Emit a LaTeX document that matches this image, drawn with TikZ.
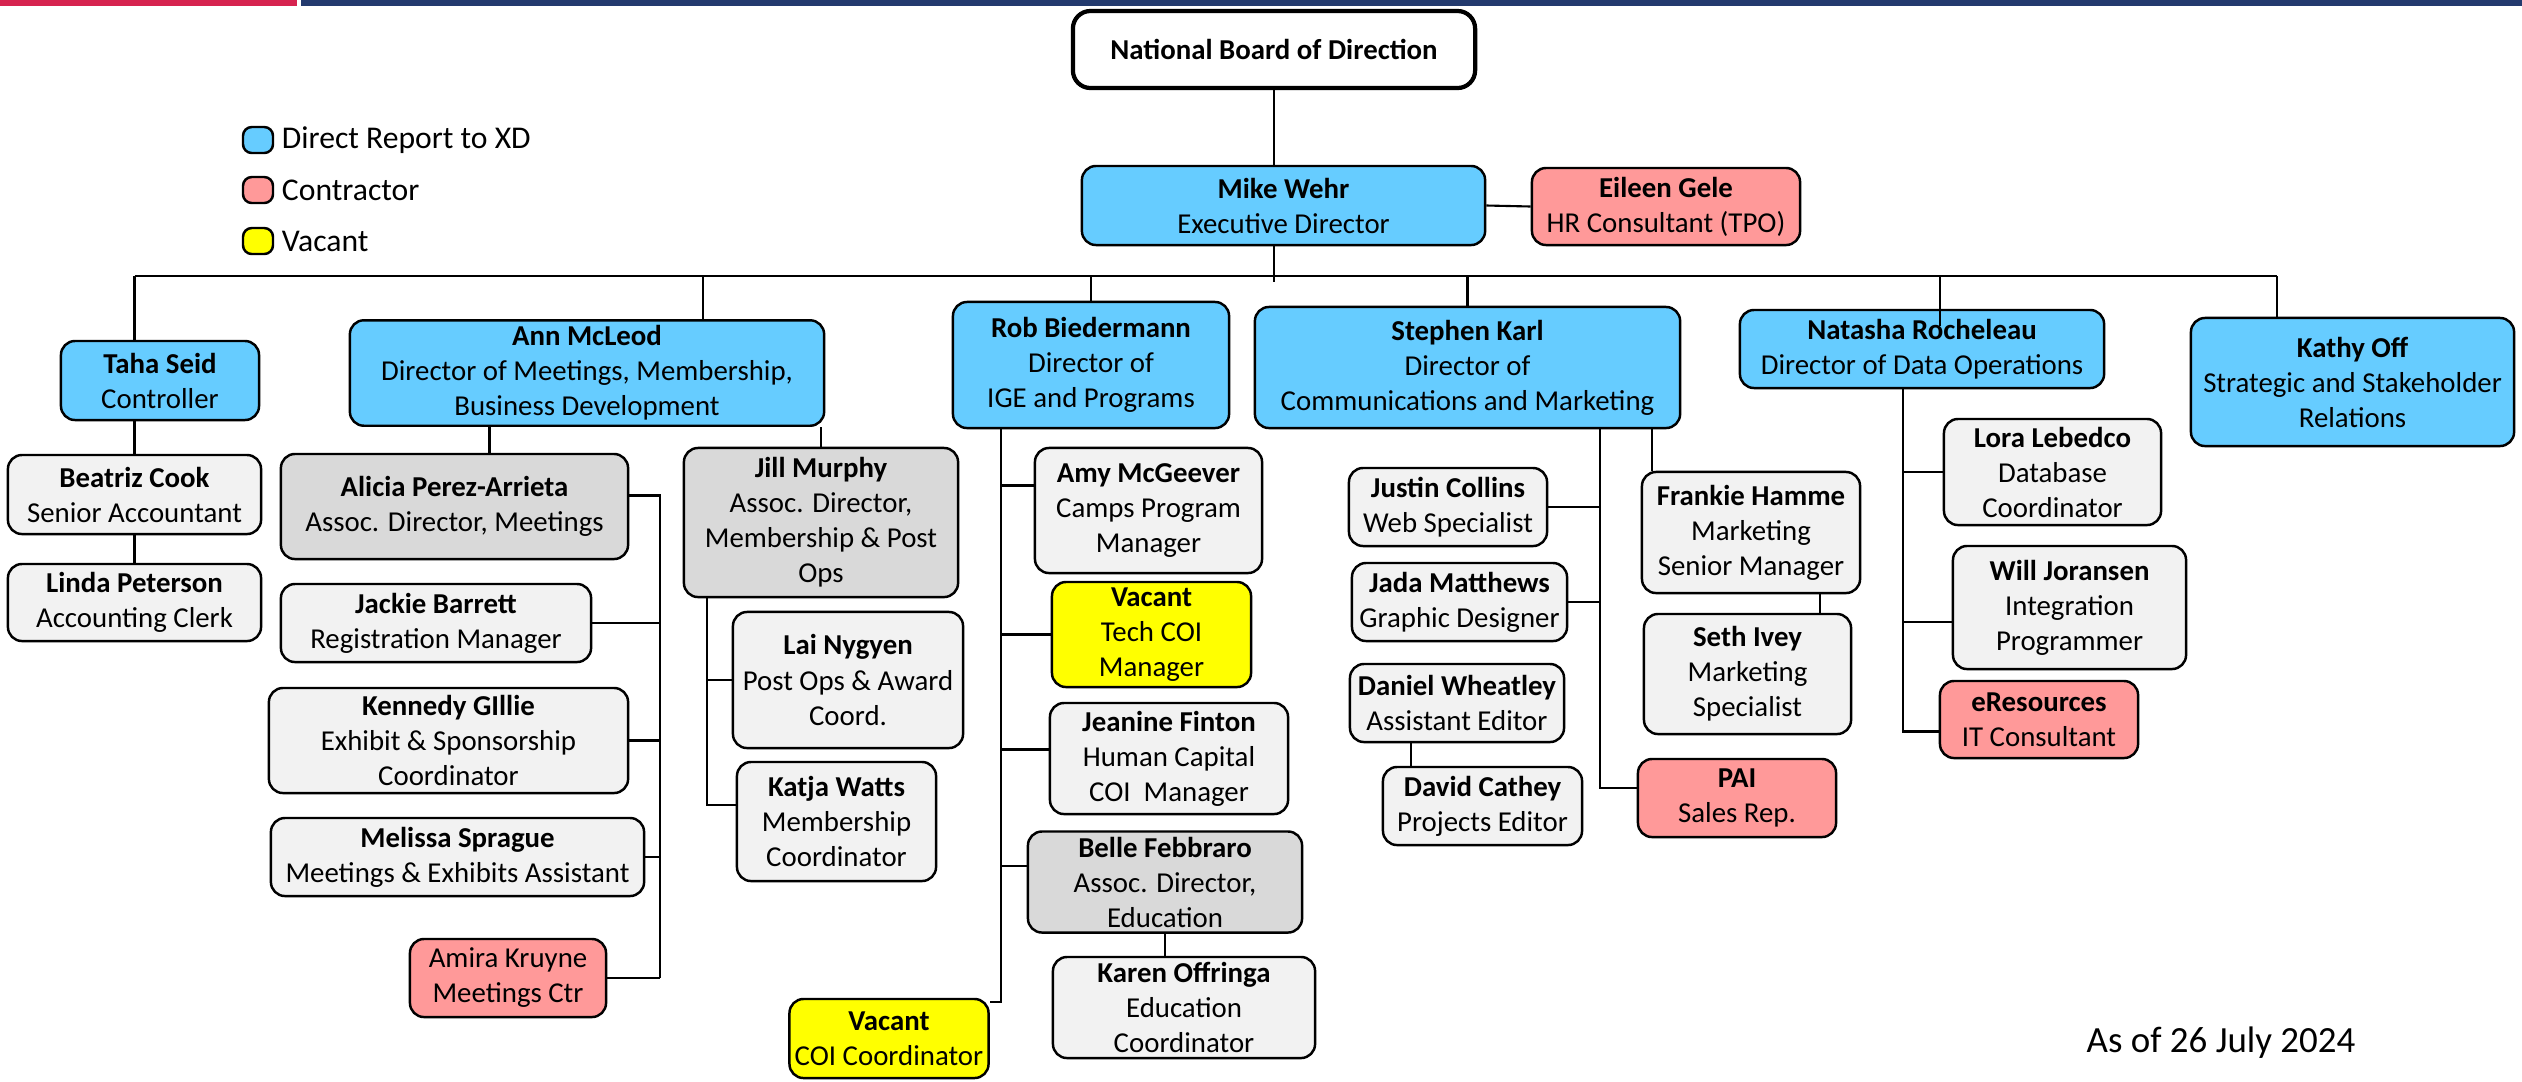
\documentclass[tikz,border=0pt]{standalone}
\usepackage{fontspec}
\setmainfont{Carlito}
\usepackage{xcolor}
\usepackage{tikz}
\usetikzlibrary{positioning}

\definecolor{dirblue}{HTML}{66CCFF}
\definecolor{contract}{HTML}{FF9999}
\definecolor{vacantyel}{HTML}{FFFF00}
\definecolor{staffgray}{HTML}{F2F2F2}
\definecolor{assocgray}{HTML}{D9D9D9}
\definecolor{barred}{HTML}{D6234F}
\definecolor{barblue}{HTML}{233A6E}
\newcommand{\orgfont}{\fontsize{8.2}{9.96}\selectfont}

\begin{document}
\begin{tikzpicture}[x=0.01cm, y=-0.01cm,
    box/.style={rectangle, draw=black, rounded corners=4pt, line width=0.7pt, align=center, inner sep=1.5pt, font=\orgfont},
    dims/.style 2 args={minimum width=#1cm, minimum height=#2cm},
    direct/.style={box, fill=dirblue},
    contractor/.style={box, fill=contract},
    vacantbox/.style={box, fill=vacantyel},
    staff/.style={box, fill=staffgray},
    assoc/.style={box, fill=assocgray},
    legbox/.style={rectangle, draw=black, rounded corners=2.5pt, line width=0.7pt, minimum width=0.3cm, minimum height=0.26cm, inner sep=0pt},
    legtext/.style={inner sep=0pt, anchor=west, font=\fontsize{9}{11}\selectfont},
    link/.style={line width=0.6pt}
]
\useasboundingbox (0,0) rectangle (2522,1081);
\fill[barred] (0,0) rectangle (297,6);
\fill[barblue] (301,0) rectangle (2522,6);

% legend
\node[legbox, fill=dirblue] (legdirect) at (258,140) {};
\node[legbox, fill=contract] (legcontract) at (258,190) {};
\node[legbox, fill=vacantyel] (legvacant) at (258,241) {};
\node[legtext, right=0.07cm of legdirect] {Direct Report to XD};
\node[legtext, right=0.07cm of legcontract] {Contractor};
\node[legtext, right=0.07cm of legvacant] {Vacant};

% top
\node[box, fill=white, line width=1.2pt, rounded corners=5pt, dims={4.02}{0.77}] (board) at (1274,49.5) {\textbf{National Board of Direction}};
\node[direct, dims={4.03}{0.79}] (wehr) at (1283.5,205.5) {\textbf{Mike Wehr}\\Executive Director};
\node[contractor, dims={2.68}{0.77}] (gele) at (1666,206.5) {\textbf{Eileen Gele}\\HR Consultant (TPO)};

% directors
\node[direct, dims={1.98}{0.79}] (seid) at (160,380.5) {\textbf{Taha Seid}\\Controller};
\node[direct, dims={4.74}{1.04}] (mcleod) at (587,373) {\textbf{Ann McLeod}\\Director of Meetings, Membership,\\Business Development};
\node[direct, dims={2.76}{1.26}] (biedermann) at (1091,365) {\textbf{Rob Biedermann}\\Director of\\IGE and Programs};
\node[direct, dims={4.25}{1.21}] (karl) at (1467.5,367.5) {\textbf{Stephen Karl}\\Director of\\Communications and Marketing};
\node[direct, dims={3.64}{0.78}] (rocheleau) at (1922,349) {\textbf{Natasha Rocheleau}\\Director of Data Operations};
\node[direct, dims={3.23}{1.28}] (off) at (2352.5,382) {\textbf{Kathy Off}\\Strategic and Stakeholder\\Relations};

% controller
\node[staff, dims={2.53}{0.79}] (cook) at (134.5,494.5) {\textbf{Beatriz Cook}\\Senior Accountant};
\node[staff, dims={2.53}{0.77}] (peterson) at (134.5,602.5) {\textbf{Linda Peterson}\\Accounting Clerk};

% meetings, membership
\node[assoc, dims={3.47}{1.05}] (perez) at (454.5,506.5) {\textbf{Alicia Perez-Arrieta}\\Assoc. Director, Meetings};
\node[staff, dims={3.10}{0.78}] (barrett) at (436,623) {\textbf{Jackie Barrett}\\Registration Manager};
\node[staff, dims={3.59}{1.05}] (gillie) at (448.5,740.5) {\textbf{Kennedy GIllie}\\Exhibit \& Sponsorship\\Coordinator};
\node[staff, dims={3.73}{0.78}] (sprague) at (457.5,857) {\textbf{Melissa Sprague}\\Meetings \& Exhibits Assistant};
\node[contractor, dims={1.96}{0.78}] (kruyne) at (508,978) {Amira Kruyne\\Meetings Ctr};
\node[assoc, dims={2.74}{1.49}] (murphy) at (821,522.5) {\textbf{Jill Murphy}\\Assoc. Director,\\Membership \& Post\\Ops};
\node[staff, dims={2.30}{1.36}] (nygyen) at (848,680) {\textbf{Lai Nygyen}\\Post Ops \& Award\\Coord.};
\node[staff, dims={1.99}{1.19}] (watts) at (836.5,821.5) {\textbf{Katja Watts}\\Membership\\Coordinator};

% IGE and programs
\node[staff, dims={2.27}{1.25}] (mcgeever) at (1148.5,510.5) {\textbf{Amy McGeever}\\Camps Program\\Manager};
\node[vacantbox, dims={1.99}{1.05}] (techcoi) at (1151.5,634.5) {\textbf{Vacant}\\Tech COI\\Manager};
\node[staff, dims={2.38}{1.11}] (finton) at (1169,758.5) {\textbf{Jeanine Finton}\\Human Capital\\COI\ \ Manager};
\node[assoc, dims={2.74}{1.00}] (febbraro) at (1165,882) {\textbf{Belle Febbraro}\\Assoc. Director,\\Education};
\node[staff, dims={2.62}{0.99}] (offringa) at (1184,1007.5) {\textbf{Karen Offringa}\\Education\\Coordinator};
\node[vacantbox, dims={1.98}{0.79}] (coicoord) at (889,1038.5) {\textbf{Vacant}\\COI Coordinator};

% communications and marketing
\node[staff, dims={1.98}{0.78}] (collins) at (1448,507) {\textbf{Justin Collins}\\Web Specialist};
\node[staff, dims={2.15}{0.78}] (matthews) at (1459.5,602) {\textbf{Jada Matthews}\\Graphic Designer};
\node[staff, dims={2.14}{0.78}] (wheatley) at (1457,703) {\textbf{Daniel Wheatley}\\Assistant Editor};
\node[staff, dims={1.99}{0.78}] (cathey) at (1482.5,806) {\textbf{David Cathey}\\Projects Editor};
\node[staff, dims={2.18}{1.21}] (hamme) at (1751,532.5) {\textbf{Frankie Hamme}\\Marketing\\Senior Manager};
\node[staff, dims={2.07}{1.20}] (ivey) at (1747.5,674) {\textbf{Seth Ivey}\\Marketing\\Specialist};
\node[contractor, dims={1.98}{0.78}] (pai) at (1737,798) {\textbf{PAI}\\Sales Rep.};

% data operations
\node[staff, dims={2.17}{1.06}] (lebedco) at (2052.5,472) {\textbf{Lora Lebedco}\\Database\\Coordinator};
\node[staff, dims={2.33}{1.23}] (joransen) at (2069.5,607.5) {\textbf{Will Joransen}\\Integration\\Programmer};
\node[contractor, dims={1.98}{0.77}] (eresources) at (2039,719.5) {\textbf{eResources}\\IT Consultant};

\node[anchor=west, inner sep=0pt, font=\fontsize{10.5}{12}\selectfont] (asof) at (2086,1043) {As of 26 July 2024};

% board to directors
\coordinate (bus) at (0,276);
\draw[link] (board.south) -- (board.south |- wehr.north);
\draw[link] (wehr.east) -- (gele.west);
\draw[link] (board.south |- wehr.south) -- ([yshift=-0.06cm]board.south |- bus);
\draw[link] (cook.north |- bus) -- ([xshift=-0.755cm]off.north |- bus);
\draw[link] (cook.north |- bus) -- (cook.north |- seid.north);
\draw[link] ([xshift=1.16cm]mcleod.north) -- ([xshift=1.16cm]mcleod.north |- bus);
\draw[link] (biedermann.north) -- (biedermann.north |- bus);
\draw[link] (karl.north) -- (karl.north |- bus);
\draw[link] ([xshift=0.18cm]rocheleau.north |- bus) -- ([xshift=0.18cm,yshift=-0.17cm]rocheleau.north);
\draw[link] ([xshift=-0.755cm]off.north) -- ([xshift=-0.755cm]off.north |- bus);

% controller
\draw[link] (cook.north |- seid.south) -- (cook.north);
\draw[link] (cook.south) -- (peterson.north);

% meetings, membership
\coordinate (abus) at (660,0);
\draw[link] ([xshift=0.35cm]perez.north) -- ([xshift=0.35cm]perez.north |- mcleod.south);
\draw[link] (murphy.north) -- (murphy.north |- mcleod.south);
\draw[link] ([yshift=0.11cm]perez.east) -| (abus |- kruyne.east);
\foreach \n in {barrett, gillie, sprague, kruyne}
    \draw[link] (\n.east) -- (abus |- \n.east);
\coordinate (jbus) at (707,0);
\draw[link] (jbus |- murphy.south) |- ([yshift=0.165cm]watts.west);
\draw[link] (jbus |- nygyen.west) -- (nygyen.west);

% IGE and programs
\coordinate (rbus) at (1001,0);
\draw[link] (rbus |- biedermann.south) |- ([yshift=-0.04cm]coicoord.north east);
\draw[link] ([yshift=0.25cm]mcgeever.west) -- ([yshift=0.25cm]mcgeever.west -| rbus);
\draw[link] (techcoi.west) -- (techcoi.west -| rbus);
\draw[link] ([yshift=0.09cm]finton.west) -- ([yshift=0.09cm]finton.west -| rbus);
\draw[link] ([yshift=0.16cm]febbraro.west) -- ([yshift=0.16cm]febbraro.west -| rbus);
\draw[link] (febbraro.south) -- (febbraro.south |- offringa.north);

% communications and marketing
\coordinate (sbus) at (1600,0);
\draw[link] (sbus |- karl.south) |- ([yshift=0.1cm]pai.west);
\draw[link] (collins.east) -- (collins.east -| sbus);
\draw[link] (matthews.east) -- (matthews.east -| sbus);
\draw[link] ([xshift=0.11cm]hamme.north west) -- ([xshift=0.11cm]hamme.north west |- karl.south);
\draw[link] ([xshift=-0.41cm]hamme.south east) -- ([xshift=-0.41cm]hamme.south east |- ivey.north);
\draw[link] ([xshift=0.29cm]cathey.north west) -- ([xshift=0.29cm]cathey.north west |- wheatley.south);

% data operations
\coordinate (nbus) at (1903,0);
\draw[link] (nbus |- rocheleau.south) |- ([yshift=-0.12cm]eresources.west);
\draw[link] (lebedco.west) -- (lebedco.west -| nbus);
\draw[link] ([yshift=-0.145cm]joransen.west) -- ([yshift=-0.145cm]joransen.west -| nbus);

\end{tikzpicture}
\end{document}
